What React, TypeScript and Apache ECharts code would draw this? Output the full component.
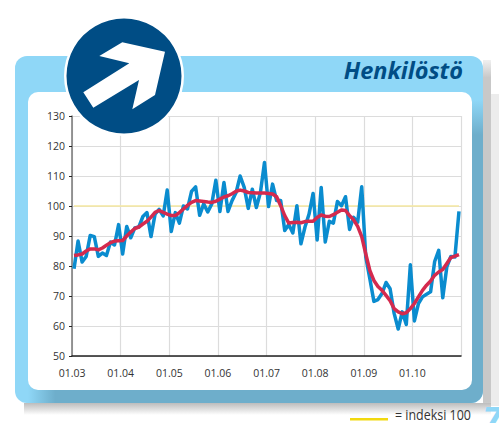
import React, { useEffect, useRef } from "react";
import * as echarts from "echarts";

const years = ["03", "04", "05", "06", "07", "08", "09", "10"];
const months = ["01", "02", "03", "04", "05", "06", "07", "08", "09", "10", "11", "12"];
const categories = years.flatMap((y) => months.map((m) => `${m}.${y}`));
const yTicks = { min: 50, max: 130, step: 10 };
const title = "Henkilöstö";
const legendText = "= indeksi 100";
const pageNumber = "7";

const staffIndex = [
  79.1, 88.3, 81.3, 83.2, 90.2, 89.8, 83.2, 84.3, 83.5, 88, 87, 93.8,
  84, 93.2, 89.4, 92.7, 93, 96.5, 97.8, 89.8, 97.3, 98.9, 96.7, 105.3,
  91.5, 97.8, 94.3, 100, 99, 104.9, 106.4, 96.9, 100.7, 98, 100.7, 108.6,
  98.2, 107.8, 98.2, 101.8, 104.5, 110, 106.2, 99.2, 105.6, 99.5, 104.5, 114.5,
  99.8, 107.3, 101.8, 101.8, 91.8, 93.8, 91, 100.1, 87.4, 93, 97.3, 104.2,
  88.7, 106.2, 88, 94.9, 94.3, 101.5, 100.1, 103.1, 92.2, 96.2, 94.6, 106.4,
  83, 75.8, 68.2, 68.8, 70.8, 74.5, 72.4, 64.2, 59, 64.7, 60.5, 80.4,
  61.7, 67.5, 69.7, 70.6, 71.4, 81.5, 85.2, 69.4, 79.7, 83.2, 83, 98.2,
];
const staffTrend = [
  83.5, 83.7, 84, 85, 85.7, 85.7, 85.4, 86, 86.9, 87.8, 88.3, 88.4,
  88.5, 90, 91.3, 92.5, 93, 94, 94.9, 96.3, 97.9, 98.5, 97.9, 97.3,
  96.8, 96.8, 97.8, 99, 100.2, 101.2, 101.8, 101.7, 101.5, 101.3, 101.2, 101.6,
  102.3, 103, 103.4, 104.1, 104.9, 105.3, 105, 104.5, 104.4, 104.3, 104.3, 104.3,
  104.2, 104, 103.1, 100.1, 96.8, 94.3, 94.5, 94.6, 94.4, 94.8, 94.9, 94.9,
  96.2, 97, 96.6, 96.5, 97.1, 97.9, 98.7, 98.5, 96.8, 95.4, 93.2, 89.8,
  84, 78.5, 75.2, 73.2, 71.9, 70.2, 68.4, 65.8, 64.7, 64.1, 64.4, 65.8,
  67.5, 69.7, 71.9, 73.6, 75, 76.9, 78, 78.8, 80.8, 82.8, 83.3, 83.8,
];
const indexLevel = categories.map(() => 100);

const FONT = "'Open Sans', sans-serif";
const arrowPoints = [
  [83.3, 92.3], [129.3, 63.3], [99.3, 56], [122.3, 42.3], [165, 51.7],
  [155, 95], [132.3, 109.3], [139, 80], [93.3, 107.7],
];

const grad = (x: number, y: number, x2: number, y2: number, stops: [number, string][]) => ({
  type: "linear", x, y, x2, y2, global: false,
  colorStops: stops.map(([offset, color]) => ({ offset, color })),
});

export default function App() {
  const ref = useRef<HTMLDivElement>(null);
  useEffect(() => {
    const chart = echarts.init(ref.current!, undefined, { renderer: "svg" });
    const yearStart = (i: number) => i % 12 === 0;
    chart.setOption({
      animation: false,
      backgroundColor: "#ffffff",
      grid: { left: 72, top: 116, width: 389, height: 240, containLabel: false },
      xAxis: {
        type: "category",
        data: categories,
        boundaryGap: true,
        axisLine: { lineStyle: { color: "#222", width: 1.5 } },
        axisTick: { interval: (i: number) => yearStart(i), length: 3, lineStyle: { color: "#222", width: 1 } },
        axisLabel: {
          interval: (i: number) => yearStart(i),
          formatter: (v: string) => "01." + v.slice(3),
          color: "#333",
          fontFamily: FONT,
          fontSize: 10.5,
          margin: 11,
          padding: [0, 4, 0, 0],
        },
        splitLine: { show: true, interval: (i: number) => yearStart(i), lineStyle: { color: "#dcdcdc", width: 1.2 } },
      },
      yAxis: {
        type: "value",
        min: yTicks.min,
        max: yTicks.max,
        interval: yTicks.step,
        axisLine: { show: true, lineStyle: { color: "#777", width: 1.5 } },
        axisTick: { show: true, length: 3, lineStyle: { color: "#222", width: 1 } },
        axisLabel: { color: "#333", fontFamily: FONT, fontSize: 10.5, margin: 7 },
        splitLine: { show: true, lineStyle: { color: "#dcdcdc", width: 1.2 } },
      },
      series: [
        { type: "line", data: indexLevel, symbol: "none", lineStyle: { color: "#f5e7a0", width: 1.5 }, z: 2 },
        { type: "line", data: staffIndex, symbol: "none", lineStyle: { color: "#0a8ccf", width: 3.5, join: "round" }, z: 3 },
        { type: "line", data: staffTrend, symbol: "none", lineStyle: { color: "#d42a4e", width: 3.5, join: "round" }, z: 4 },
      ],
      graphic: [
        { type: "rect", z: -10, shape: { x: 490, y: 94, width: 9, height: 312 }, style: { fill: "#ececec" } },
        { type: "rect", z: -10, shape: { x: 483, y: 60, width: 8, height: 352 }, style: { fill: grad(0, 0, 0, 1, [[0, "#f0f0f0"], [0.05, "#c8c8c8"], [0.97, "#c8c8c8"], [1, "#e0e0e0"]]) } },
        { type: "rect", z: -9, shape: { x: 24, y: 403, width: 467, height: 12 }, style: { fill: grad(0, 0, 0, 1, [[0, "#bcbcbc"], [1, "#ffffff"]]) } },
        { type: "rect", z: -8, shape: { x: 15, y: 56, width: 468, height: 347, r: 12 }, style: { fill: "#8fd7f7" } },
        { type: "rect", z: -7, shape: { x: 460, y: 100, width: 23, height: 290 }, style: { fill: grad(0, 0, 0, 1, [[0, "#8fd7f7"], [0.12, "#6eaecb"], [1, "#6eaecb"]]) } },
        { type: "rect", z: -7, shape: { x: 28, y: 380, width: 455, height: 23, r: [0, 0, 12, 0] }, style: { fill: grad(0, 0, 1, 0, [[0, "#8fd7f7"], [0.06, "#6eaecb"], [1, "#6eaecb"]]) } },
        { type: "rect", z: -6, shape: { x: 28, y: 92, width: 444, height: 298, r: 10 }, style: { fill: "#ffffff" } },
        {
          type: "text", z: 20, style: {
            x: 463, y: 70, text: title, align: "right", verticalAlign: "middle",
            font: `italic 700 23.5px ${FONT}`, fill: "#004d85",
          },
        },
        { type: "circle", z: 20, shape: { cx: 124, cy: 76, r: 60 }, style: { fill: "#ffffff" } },
        { type: "circle", z: 21, shape: { cx: 124, cy: 76, r: 57.5 }, style: { fill: "#004d85" } },
        { type: "polygon", z: 22, shape: { points: arrowPoints }, style: { fill: "#ffffff" } },
        { type: "rect", z: 20, shape: { x: 350, y: 418, width: 38, height: 2.5 }, style: { fill: "#f2d90f" } },
        {
          type: "text", z: 20, x: 395, y: 414, scaleX: 0.83, style: {
            x: 0, y: 0, text: legendText, align: "left", verticalAlign: "middle", lineHeight: 17,
            font: `400 15px ${FONT}`, fill: "#333",
          },
        },
        {
          type: "text", z: 20, style: {
            x: 482, y: 419, text: pageNumber, align: "left", verticalAlign: "middle",
            font: `italic 700 36px ${FONT}`, fill: "#8fd7f7",
          },
        },
      ],
    });
    return () => chart.dispose();
  }, []);
  return <div ref={ref} style={{ position: "fixed", left: 0, top: 0, width: 499, height: 423 }} />;
}
